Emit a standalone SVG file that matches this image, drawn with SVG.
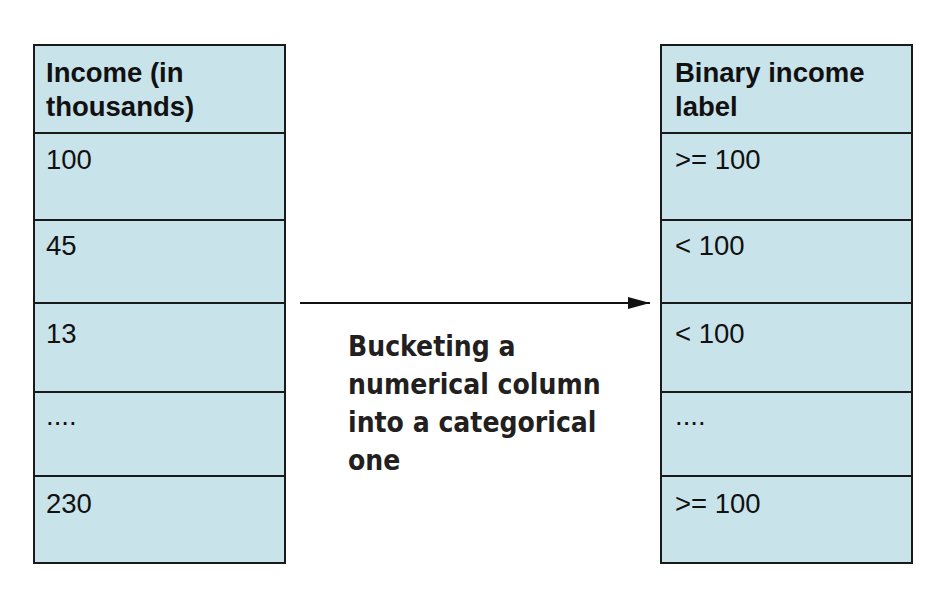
<svg xmlns="http://www.w3.org/2000/svg" width="946" height="592" viewBox="0 0 946 592">
<style>
.cell{fill:#c9e3ea;stroke:#1a1a1a;stroke-width:2}
.h{font-family:"Liberation Sans",Arial,sans-serif;font-weight:bold;font-size:27.5px;fill:#111}
.t{font-family:"Liberation Sans",Arial,sans-serif;font-size:27.5px;fill:#111}
.lbl{font-family:"DejaVu Sans Condensed","DejaVu Sans",sans-serif;font-weight:bold;font-size:28px;fill:#231f20}
.conn{stroke:#111;stroke-width:2;fill:none}
</style>
<defs>
<marker id="ah" markerWidth="22" markerHeight="12" refX="22" refY="6" orient="auto" markerUnits="userSpaceOnUse">
<path d="M0,0 L22,6 L0,12 Z" fill="#111"/>
</marker>
</defs>
<rect width="946" height="592" fill="#fff"/>
<g id="left-table">
<rect class="cell" x="34" y="45" width="251" height="88"/>
<rect class="cell" x="34" y="133" width="251" height="87"/>
<rect class="cell" x="34" y="220" width="251" height="83"/>
<rect class="cell" x="34" y="303" width="251" height="89"/>
<rect class="cell" x="34" y="392" width="251" height="84"/>
<rect class="cell" x="34" y="476" width="251" height="87"/>
<text class="h" x="46" y="82">Income (in</text>
<text class="h" x="46" y="116">thousands)</text>
<text class="t" x="46" y="169">100</text>
<text class="t" x="46" y="255">45</text>
<text class="t" x="46" y="343">13</text>
<text class="t" x="46" y="425">....</text>
<text class="t" x="46" y="513">230</text>
</g>
<g id="right-table">
<rect class="cell" x="661" y="45" width="251" height="88"/>
<rect class="cell" x="661" y="133" width="251" height="87"/>
<rect class="cell" x="661" y="220" width="251" height="83"/>
<rect class="cell" x="661" y="303" width="251" height="89"/>
<rect class="cell" x="661" y="392" width="251" height="84"/>
<rect class="cell" x="661" y="476" width="251" height="87"/>
<text class="h" x="675" y="82">Binary income</text>
<text class="h" x="675" y="116">label</text>
<text class="t" x="675" y="169">&gt;= 100</text>
<text class="t" x="675" y="255">&lt; 100</text>
<text class="t" x="675" y="343">&lt; 100</text>
<text class="t" x="675" y="425">....</text>
<text class="t" x="675" y="513">&gt;= 100</text>
</g>
<g id="connectors">
<line class="conn" x1="300" y1="303" x2="650" y2="303" marker-end="url(#ah)"/>
</g>
<g id="label">
<text class="lbl" x="348" y="356">Bucketing a</text>
<text class="lbl" x="348" y="394">numerical column</text>
<text class="lbl" x="348" y="432">into a categorical</text>
<text class="lbl" x="348" y="470">one</text>
</g>
</svg>
